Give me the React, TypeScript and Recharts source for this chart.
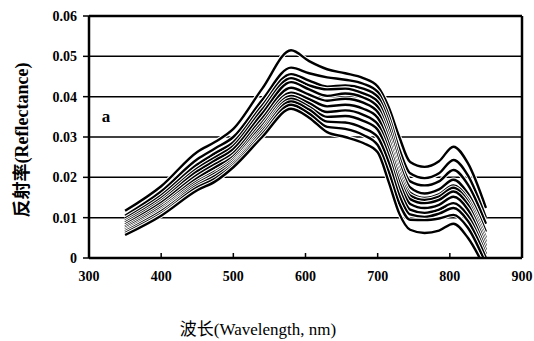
import React from 'react';
import { LineChart, Line, XAxis, YAxis, CartesianGrid, ReferenceLine, ReferenceDot, Label } from 'recharts';

// wavelength samples (nm)
const wavelengths = [350, 400, 450, 475, 500, 540, 580, 605, 630, 655, 680, 700, 715, 730, 745, 765, 785, 805, 825, 850];

// reflectance curves (top to bottom)
const r1 = [0.0117, 0.0178, 0.0263, 0.0288, 0.032, 0.042, 0.0515, 0.0488, 0.0468, 0.0458, 0.0446, 0.0425, 0.0375, 0.03, 0.0238, 0.0226, 0.024, 0.0276, 0.0235, 0.0124];
const r2 = [0.0105, 0.0165, 0.0245, 0.0272, 0.03, 0.0392, 0.0472, 0.0458, 0.0448, 0.0442, 0.0432, 0.0412, 0.0355, 0.027, 0.021, 0.0198, 0.021, 0.0243, 0.0205, 0.01];
const r3 = [0.0098, 0.0155, 0.0232, 0.026, 0.0287, 0.0378, 0.0456, 0.044, 0.0425, 0.0428, 0.042, 0.04, 0.034, 0.025, 0.019, 0.018, 0.019, 0.0218, 0.0182, 0.0085];
const r4 = [0.0092, 0.0148, 0.0222, 0.025, 0.0278, 0.0368, 0.0446, 0.0428, 0.0418, 0.042, 0.0408, 0.0388, 0.0325, 0.0235, 0.0175, 0.016, 0.017, 0.0194, 0.016, 0.0065];
const r5 = [0.0088, 0.0142, 0.0215, 0.0242, 0.027, 0.0358, 0.0436, 0.0418, 0.0402, 0.0408, 0.0398, 0.0375, 0.031, 0.022, 0.0162, 0.0149, 0.0158, 0.018, 0.0148, 0.005];
const r6 = [0.0083, 0.0137, 0.0206, 0.0233, 0.026, 0.0346, 0.0422, 0.0405, 0.039, 0.0395, 0.0385, 0.0362, 0.0298, 0.021, 0.0155, 0.0144, 0.0152, 0.0174, 0.014, 0.004];
const r7 = [0.0078, 0.013, 0.0198, 0.0225, 0.0252, 0.0336, 0.041, 0.0394, 0.0376, 0.038, 0.037, 0.0348, 0.0285, 0.02, 0.0146, 0.0136, 0.0144, 0.0165, 0.0132, 0.003];
const r8 = [0.0074, 0.0125, 0.019, 0.0215, 0.0245, 0.0328, 0.0402, 0.0384, 0.0362, 0.0366, 0.0355, 0.0332, 0.027, 0.0188, 0.0134, 0.0124, 0.0132, 0.0152, 0.012, 0.002];
const r9 = [0.007, 0.012, 0.0185, 0.021, 0.024, 0.032, 0.0395, 0.0375, 0.035, 0.0352, 0.034, 0.0318, 0.0255, 0.0172, 0.012, 0.0112, 0.012, 0.0136, 0.0105, 0.001];
const r10 = [0.0066, 0.0116, 0.018, 0.0204, 0.0235, 0.0314, 0.0388, 0.0368, 0.0338, 0.0336, 0.0322, 0.03, 0.0238, 0.0155, 0.0108, 0.0102, 0.011, 0.0124, 0.0092, 0.0];
const r11 = [0.0062, 0.011, 0.0175, 0.0197, 0.023, 0.0307, 0.038, 0.0358, 0.0325, 0.032, 0.0305, 0.028, 0.0215, 0.0135, 0.0095, 0.0094, 0.0098, 0.0107, 0.0075, -0.0015];
const r12 = [0.0057, 0.0105, 0.0168, 0.019, 0.0225, 0.03, 0.037, 0.0348, 0.0312, 0.03, 0.0285, 0.0262, 0.019, 0.011, 0.007, 0.0062, 0.0068, 0.0085, 0.005, -0.003];

const series = [r1, r2, r3, r4, r5, r6, r7, r8, r9, r10, r11, r12];

const xTicks = [300, 400, 500, 600, 700, 800, 900];
const yTicks = [0, 0.01, 0.02, 0.03, 0.04, 0.05, 0.06];

const data = wavelengths.map((wl, i) => {
  const row: any = { wl };
  series.forEach((s, k) => { row['r' + (k + 1)] = s[i]; });
  return row;
});

const serif = '"Liberation Serif", "Times New Roman", "Noto Sans CJK SC", serif';
const tickFont = { fontFamily: serif, fontWeight: 'bold', fontSize: 14, fill: '#000' };

const XTick = ({ x, y, payload }: any) => (
  <g>
    <line x1={x} x2={x} y1={y - 13} y2={y - 18} stroke="#000" strokeWidth={1.5} />
    <text x={x} y={y} dy="0.71em" textAnchor="middle" {...tickFont}>{payload.value}</text>
  </g>
);

export default function App() {
  return (
    <div style={{ position: 'absolute', left: 0, top: 0, width: 534, height: 341, background: '#fff' }}>
      <LineChart width={534} height={341} data={data} margin={{ top: 16, right: 12, bottom: 0, left: 0 }}>
        <CartesianGrid vertical={false} stroke="#000" strokeWidth={1.5} strokeOpacity={1} />
        <XAxis
          dataKey="wl"
          type="number"
          domain={[300, 900]}
          ticks={xTicks}
          height={83}
          axisLine={{ stroke: '#000', strokeWidth: 2.5 }}
          tickLine={false}
          tickSize={0}
          tickMargin={13}
          tick={<XTick />}
          interval={0}
        >
          <Label
            content={() => (
              <text x={258} y={335} textAnchor="middle" fontFamily={serif} fontSize={17} fill="#000">
                波长(Wavelength, nm)
              </text>
            )}
          />
        </XAxis>
        <YAxis
          type="number"
          domain={[0, 0.06]}
          ticks={yTicks}
          allowDataOverflow
          width={89}
          axisLine={{ stroke: '#000', strokeWidth: 2.5 }}
          tickLine={{ stroke: '#000', strokeWidth: 1.5 }}
          tickSize={6}
          tickMargin={6}
          tick={tickFont}
          tickFormatter={(v: number) => (v === 0 ? '0' : v.toFixed(2))}
          interval={0}
        >
          <Label
            content={() => (
              <text
                x={22}
                y={140}
                transform="rotate(-90, 22, 140)"
                textAnchor="middle"
                dominantBaseline="central"
                fontFamily={serif}
                fontWeight="bold"
                fontSize={18}
                fill="#000"
              >
                反射率(Reflectance)
              </text>
            )}
          />
        </YAxis>
        <ReferenceLine x={900} stroke="#000" strokeWidth={2.5} />
        <ReferenceLine y={0.06} stroke="#000" strokeWidth={2.5} />
        <ReferenceDot x={324} y={0.035} r={0} fill="none" stroke="none">
          <Label
            content={() => (
              <text x={106} y={122} textAnchor="middle" fontFamily={serif} fontWeight="bold" fontSize={17} fill="#000">
                a
              </text>
            )}
          />
        </ReferenceDot>
        {series.map((_, k) => [
          <Line
            key={'h' + k}
            dataKey={'r' + (k + 1)}
            type="monotone"
            stroke="#fff"
            strokeWidth={4.5}
            dot={false}
            activeDot={false}
            isAnimationActive={false}
          />,
          <Line
            key={'l' + k}
            dataKey={'r' + (k + 1)}
            type="monotone"
            stroke="#000"
            strokeWidth={2.4}
            dot={false}
            activeDot={false}
            isAnimationActive={false}
          />,
        ])}
      </LineChart>
    </div>
  );
}
